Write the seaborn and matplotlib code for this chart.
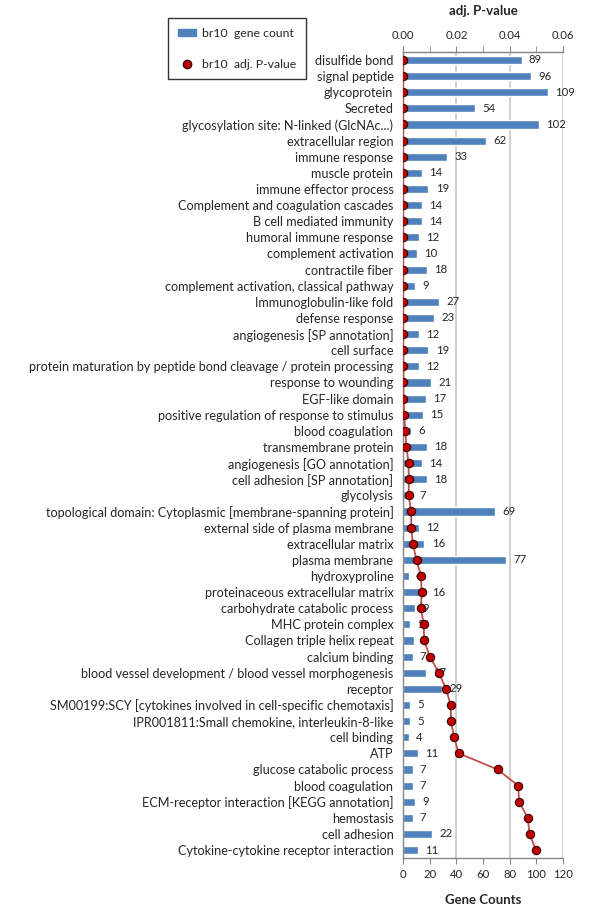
import numpy as np
import pandas as pd
import matplotlib.pyplot as plt
import seaborn as sns
from matplotlib.lines import Line2D
from matplotlib.patches import Patch
from matplotlib.ticker import MultipleLocator

# Datos
terms = [
    "disulfide bond", "signal peptide", "glycoprotein", "Secreted",
    "glycosylation site: N-linked (GlcNAc...)", "extracellular region",
    "immune response", "muscle protein", "immune effector process",
    "Complement and coagulation cascades", "B cell mediated immunity",
    "humoral immune response", "complement activation", "contractile fiber",
    "complement activation, classical pathway", "Immunoglobulin-like fold",
    "defense response", "angiogenesis [SP annotation]", "cell surface",
    "protein maturation by peptide bond cleavage / protein processing",
    "response to wounding", "EGF-like domain",
    "positive regulation of response to stimulus", "blood coagulation",
    "transmembrane protein", "angiogenesis [GO annotation]",
    "cell adhesion [SP annotation]", "glycolysis",
    "topological domain: Cytoplasmic [membrane-spanning protein]",
    "external side of plasma membrane", "extracellular matrix",
    "plasma membrane", "hydroxyproline", "proteinaceous extracellular matrix",
    "carbohydrate catabolic process", "MHC protein complex",
    "Collagen triple helix repeat", "calcium binding",
    "blood vessel development / blood vessel morphogenesis", "receptor",
    "SM00199:SCY [cytokines involved in cell-specific chemotaxis]",
    "IPR001811:Small chemokine, interleukin-8-like", "cell binding", "ATP",
    "glucose catabolic process", "blood coagulation",
    "ECM-receptor interaction [KEGG annotation]", "hemostasis",
    "cell adhesion", "Cytokine-cytokine receptor interaction",
]
gene_counts = [89, 96, 109, 54, 102, 62, 33, 14, 19, 14, 14, 12, 10, 18, 9,
               27, 23, 12, 19, 12, 21, 17, 15, 6, 18, 14, 18, 7, 69, 12, 16,
               77, 4, 16, 9, 5, 8, 7, 17, 29, 5, 5, 4, 11, 7, 7, 9, 7, 22, 11]
adj_pvalues = [0.0, 0.0, 0.0, 0.0, 0.0, 0.0, 0.0, 0.0, 0.0, 0.0, 0.0, 0.0,
               0.0, 0.0, 0.0, 0.0, 0.0, 0.0, 0.0, 0.0001, 0.0001, 0.0001,
               0.0004, 0.0008, 0.0012, 0.0020, 0.0021, 0.0021, 0.0029, 0.0031,
               0.0036, 0.0050, 0.0067, 0.0069, 0.0067, 0.0077, 0.0079, 0.0100,
               0.0134, 0.0161, 0.0178, 0.0180, 0.0191, 0.0209, 0.0355, 0.0432,
               0.0436, 0.0468, 0.0475, 0.0499]

BAR_COLOR = "#4F81BD"
DOT_COLOR = "#C00000"
LINE_COLOR = "#C0504D"
GRID_COLOR = "#C8C8C8"

df = pd.DataFrame({"pos": range(len(terms)), "term": terms,
                   "count": gene_counts, "pval": adj_pvalues})

sns.set_style("white")
plt.rcParams["font.family"] = ["Lato", "DejaVu Sans"]

fig = plt.figure(figsize=(6.0, 9.11), dpi=100)
ax = fig.add_axes([0.672, 0.058, 0.266, 0.885])

sns.barplot(data=df, x="count", y="pos", orient="h", color=BAR_COLOR,
            width=0.5, saturation=1, ax=ax)
ax.set_xlim(0, 120)
ax.set_ylim(len(terms) - 0.5, -0.5)

# líneas verticales de la cuadrícula
for gx in [40, 80, 120]:
    ax.axvline(gx, color=GRID_COLOR, lw=1.2, zorder=0)

# etiquetas de conteo
for i, c in enumerate(gene_counts):
    ax.text(c + 5.5, i, str(c), va="center", ha="left", fontsize=8.2)

ax.set_yticks(range(len(terms)))
ax.set_yticklabels(terms, fontsize=9.1)
ax.set_yticks(np.arange(-0.5, len(terms), 1), minor=True)
ax.tick_params(axis="y", which="major", length=0, pad=7)
ax.tick_params(axis="y", which="minor", length=4, color="#868686", direction="out")
ax.set_ylabel("")

ax.xaxis.set_major_locator(MultipleLocator(20))
ax.tick_params(axis="x", which="major", length=4, color="#868686",
               direction="out", labelsize=8.2, pad=4)
ax.set_xlabel("Gene Counts", fontsize=9.5, fontweight="bold", labelpad=10)

for s in ["left", "bottom", "top"]:
    ax.spines[s].set_color("#868686")
    ax.spines[s].set_linewidth(1)
ax.spines["right"].set_visible(False)

# eje superior: p-valor ajustado
ax2 = ax.twiny()
sns.lineplot(data=df, x="pval", y="pos", sort=False, orient="y", ax=ax2,
             color=LINE_COLOR, lw=1.3, marker="o", markersize=6,
             markerfacecolor=DOT_COLOR, markeredgecolor="#3a0000",
             markeredgewidth=0.8, zorder=5)
ax2.set_xlim(0, 0.06)
ax2.set_ylim(len(terms) - 0.5, -0.5)
ax2.xaxis.set_major_locator(MultipleLocator(0.02))
ax2.xaxis.set_minor_locator(MultipleLocator(0.01))
ax2.xaxis.set_major_formatter(plt.FormatStrFormatter("%.2f"))
ax2.tick_params(axis="x", which="both", length=4, color="#868686",
                direction="out", labelsize=8.2, pad=4)
ax2.set_xlabel("adj. P-value", fontsize=9.5, fontweight="bold", labelpad=11)
ax2.set_ylabel("")
for s in ["left", "right", "bottom"]:
    ax2.spines[s].set_visible(False)
ax2.spines["top"].set_color("#868686")

handles = [Patch(facecolor=BAR_COLOR, edgecolor=BAR_COLOR),
           Line2D([], [], ls="none", marker="o", markersize=6,
                  markerfacecolor=DOT_COLOR, markeredgecolor="#3a0000")]
leg = fig.legend(handles, ["br10  gene count", "br10  adj. P-value"],
                 loc="upper left", bbox_to_anchor=(0.28, 0.98),
                 fontsize=8.8, frameon=True, fancybox=False,
                 handlelength=1.5, handleheight=0.45, handletextpad=0.5,
                 borderpad=0.8, labelspacing=1.6, borderaxespad=0)
leg.get_frame().set_edgecolor("black")
leg.get_frame().set_linewidth(1)

fig.savefig("out.png", dpi=100)
